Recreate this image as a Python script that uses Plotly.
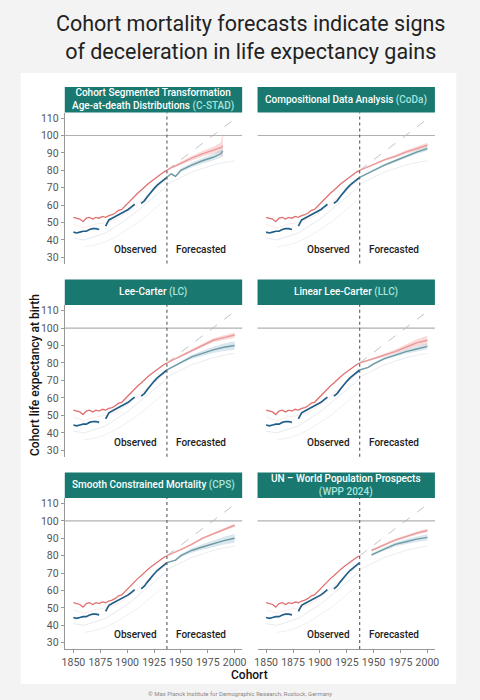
import plotly.graph_objects as go

# Observed cohort life expectancy (shared by all panels)
obs_years = list(range(1850, 1938, 3))
obs_female = [53, 52.5, 52, 50.5, 52.5, 53, 52, 53, 52.5, 53.5, 53, 54, 54.5, 55.5, 57,
              57.5, 59.5, 61, 63.5, 65.5, 67, 68.5, 70.5, 72, 73.5, 75, 76.5, 77.5, 79, 80]
obs_male = [44.5, 44, 44.5, 45, 45, 46, 46.5, 46.5, 46, None, 48, 51.5, 52.5, 53.5, 54.5,
            55.5, 56.5, 57.5, 59, 60.5, None, 61, 62.5, 65, 67.5, 69.5, 71.5, 73, 74.5, 76]

# faint background lines
faint_years = [1850, 1860, 1870, 1880, 1890, 1900, 1910, 1920, 1930, 1937]
faint_pink = [49, 47, 49, 50, 52, 56, 61, 66, 71, 75]
faint_blue = [41, 40, 42, 44, 48, 52, 57, 62, 67, 71]
faint_grey = [None, 36, 37, 39, 42, 46, 50, 55, 60, 64]
faint_fc_years = [1937, 1950, 1960, 1970, 1980, 1990, 2000]
faint_fc = [72, 76, 79, 81, 83, 84.5, 85.5]

# linear trend (dashed)
trend_years = [1937, 2000]
trend_vals = [80, 109.5]

# Forecasts
fc_years = [1937, 1945, 1950, 1960, 1970, 1980, 1990, 2000]

cstad_years = [1937, 1941, 1945, 1950, 1960, 1970, 1980, 1987, 1989]
cstad_f = [80, 81.5, 82.5, 84, 87, 89.5, 91.5, 93, 94]
cstad_m = [76, 78, 76.5, 80, 83, 85.5, 87.5, 89.5, 91]
cstad_fband = [0, 0.6, 0.8, 1, 1.3, 1.6, 2, 2.8, 7.5]
cstad_mband = [0, 0.5, 0.8, 1, 1.3, 1.6, 1.9, 2.2, 2.5]

coda_f = [80, 82, 83.5, 86, 88, 90.5, 92.5, 94.5]
coda_m = [76, 78.5, 80, 83, 85.5, 88, 90.5, 92.5]
coda_fband = [0, 0.4, 0.5, 0.6, 0.8, 1, 1.2, 1.4]
coda_mband = [0, 0.4, 0.5, 0.6, 0.8, 1, 1.1, 1.3]

lc_f = [80, 82.5, 84, 87, 90, 93, 94.5, 96]
lc_m = [76, 78.5, 80.5, 83.5, 85.5, 87.5, 89, 90]
lc_fband = [0, 0.4, 0.6, 0.8, 1, 1.2, 1.4, 1.5]
lc_mband = [0, 0.6, 0.8, 1.2, 1.5, 1.8, 2.1, 2.4]

llc_f = [80, 81.5, 82.5, 84.5, 86.5, 89, 91.5, 93]
llc_m = [76, 77.5, 79.5, 82.5, 84.5, 86.5, 88, 89.5]
llc_fband = [0, 0.4, 0.6, 0.9, 1.2, 1.6, 2.1, 2.6]
llc_mband = [0, 0.4, 0.6, 0.8, 1, 1.2, 1.4, 1.6]

cps_f = [80, 82, 83.5, 86.5, 90, 92.5, 95, 97.5]
cps_m = [76, 77.5, 80, 83, 85, 87, 88.7, 90]
cps_fband = [0, 0.3, 0.4, 0.5, 0.6, 0.7, 0.8, 0.9]
cps_mband = [0, 0.6, 0.9, 1.3, 1.6, 1.9, 2.2, 2.5]

wpp_years = [1948, 1960, 1970, 1980, 1990, 2000]
wpp_f = [83, 86.5, 89, 91, 93, 94.5]
wpp_m = [80.5, 84, 86.5, 88, 89.5, 90.5]
wpp_fband = [0.5, 0.6, 0.7, 0.8, 0.9, 1]
wpp_mband = [0.8, 1, 1.2, 1.4, 1.6, 1.8]

PAR = "<span style='color:#a8e4dd'>"
titles = [
    "Cohort Segmented Transformation<br>Age-at-death Distributions " + PAR + "(C-STAD)</span>",
    "Compositional Data Analysis " + PAR + "(CoDa)</span>",
    "Lee-Carter " + PAR + "(LC)</span>",
    "Linear Lee-Carter " + PAR + "(LLC)</span>",
    "Smooth Constrained Mortality " + PAR + "(CPS)</span>",
    "UN – World Population Prospects<br>" + PAR + "(WPP 2024)</span>",
]
panels = [
    (cstad_years, cstad_f, cstad_m, cstad_fband, cstad_mband),
    (fc_years, coda_f, coda_m, coda_fband, coda_mband),
    (fc_years, lc_f, lc_m, lc_fband, lc_mband),
    (fc_years, llc_f, llc_m, llc_fband, llc_mband),
    (fc_years, cps_f, cps_m, cps_fband, cps_mband),
    (wpp_years, wpp_f, wpp_m, wpp_fband, wpp_mband),
]

W, H = 480, 700
col_px = [(62.7, 242.7), (258.3, 438.3)]
row_px = [(111.7, 263), (304.4, 456.3), (497.6, 649)]
HEAD = 25.5

RED = "#e07070"
BLUE = "#1f5e89"
RED_FC = "#e99a9a"
BLUE_FC = "#6e9aa2"
TEAL = "#19786f"

fig = go.Figure()
shapes = []
annotations = []

# white card
shapes.append(dict(type="rect", xref="paper", yref="paper", x0=18 / W, x1=460 / W,
                   y0=1 - 684 / H, y1=1 - 72 / H, fillcolor="white", line_width=0, layer="below"))

for i, (yrs, f, m, fb, mb) in enumerate(panels):
    r, c = divmod(i, 2)
    n = i + 1
    xa = "x" if n == 1 else f"x{n}"
    ya = "y" if n == 1 else f"y{n}"
    x0, x1 = col_px[c]
    top, bot = row_px[r]

    # faint lines
    for vals, col in [(faint_pink, "rgba(235,170,170,0.25)"), (faint_blue, "rgba(150,175,200,0.25)"),
                      (faint_grey, "rgba(180,180,190,0.2)")]:
        fig.add_trace(go.Scatter(x=faint_years, y=vals, mode="lines", line=dict(color=col, width=1),
                                 xaxis=xa, yaxis=ya, hoverinfo="skip", showlegend=False))
    fig.add_trace(go.Scatter(x=faint_fc_years, y=faint_fc, mode="lines",
                             line=dict(color="rgba(170,180,195,0.25)", width=1),
                             xaxis=xa, yaxis=ya, hoverinfo="skip", showlegend=False))

    # trend
    fig.add_trace(go.Scatter(x=trend_years, y=trend_vals, mode="lines",
                             line=dict(color="#c4c4c4", width=1, dash="dash"),
                             xaxis=xa, yaxis=ya, hoverinfo="skip", showlegend=False))

    # bands
    for vals, band, col in [(f, fb, "rgba(240,150,150,0.35)"), (m, mb, "rgba(150,185,205,0.35)")]:
        hi = [v + b for v, b in zip(vals, band)]
        lo = [v - b for v, b in zip(vals, band)]
        fig.add_trace(go.Scatter(x=yrs + yrs[::-1], y=hi + lo[::-1], fill="toself", fillcolor=col,
                                 line=dict(width=0), mode="lines", xaxis=xa, yaxis=ya,
                                 hoverinfo="skip", showlegend=False))

    # forecast lines
    fig.add_trace(go.Scatter(x=yrs, y=f, mode="lines", line=dict(color=RED_FC, width=1.4),
                             xaxis=xa, yaxis=ya, showlegend=False))
    fig.add_trace(go.Scatter(x=yrs, y=m, mode="lines", line=dict(color=BLUE_FC, width=1.4),
                             xaxis=xa, yaxis=ya, showlegend=False))

    # observed
    fig.add_trace(go.Scatter(x=obs_years, y=obs_female, mode="lines", line=dict(color=RED, width=1.3),
                             xaxis=xa, yaxis=ya, showlegend=False))
    fig.add_trace(go.Scatter(x=obs_years, y=obs_male, mode="lines", line=dict(color=BLUE, width=1.7),
                             xaxis=xa, yaxis=ya, showlegend=False))

    ax = dict(domain=[x0 / W, x1 / W], range=[1842, 2007], anchor=ya, showgrid=False, zeroline=False,
              tickvals=[1850, 1875, 1900, 1925, 1950, 1975, 2000],
              tickfont=dict(family="Roboto", size=10.5, color="#555"))
    if r == 2:
        ax.update(showline=True, linecolor="#999", linewidth=1, ticks="outside", ticklen=3,
                  tickcolor="#999", showticklabels=True)
    else:
        ax.update(showticklabels=False, showline=False)
    ay = dict(domain=[1 - bot / H, 1 - top / H], range=[26.4, 113.2], anchor=xa, showgrid=False,
              zeroline=False, tickvals=list(range(30, 111, 10)),
              tickfont=dict(family="Roboto", size=10.5, color="#555"))
    if c == 0:
        ay.update(showline=True, linecolor="#999", linewidth=1, ticks="outside", ticklen=3,
                  tickcolor="#999", showticklabels=True)
    else:
        ay.update(showticklabels=False, showline=False)
    fig.update_layout(**{("xaxis" if n == 1 else f"xaxis{n}"): ax,
                         ("yaxis" if n == 1 else f"yaxis{n}"): ay})

    # reference lines
    shapes.append(dict(type="line", xref=f"{xa} domain", yref=ya, x0=0, x1=1, y0=100, y1=100,
                       line=dict(color="#b0b0b0", width=1.2)))
    shapes.append(dict(type="line", xref=xa, yref=f"{ya} domain", x0=1937, x1=1937, y0=0, y1=1,
                       line=dict(color="#666", width=1.2, dash="dot")))

    # header
    shapes.append(dict(type="rect", xref="paper", yref="paper", x0=x0 / W, x1=x1 / W,
                       y0=1 - top / H, y1=1 - (top - HEAD) / H, fillcolor=TEAL, line_width=0))
    annotations.append(dict(xref="paper", yref="paper", x=(x0 + x1) / 2 / W, y=1 - (top - HEAD / 2) / H,
                            text=titles[i], showarrow=False, xanchor="center", yanchor="middle",
                            font=dict(family="Roboto", size=10, color="white", weight=500)))

    for lbl, xv in [("Observed", 1908), ("Forecasted", 1969)]:
        annotations.append(dict(xref=xa, yref=ya, x=xv, y=34.5, text=lbl, showarrow=False,
                                font=dict(family="Roboto", size=10, color="#222", weight=500)))

# title, axis titles, footer
annotations.append(dict(xref="paper", yref="paper", x=251 / W, y=1 - 37 / H,
                        text="Cohort mortality forecasts indicate signs<br>of deceleration in life expectancy gains",
                        showarrow=False, xanchor="center", yanchor="middle",
                        font=dict(family="Roboto", size=21.5, color="#222")))
annotations.append(dict(xref="paper", yref="paper", x=33 / W, y=1 - 375 / H, text="Cohort life expectancy at birth",
                        textangle=-90, showarrow=False, xanchor="center", yanchor="middle",
                        font=dict(family="Roboto", size=12, color="#111", weight=500)))
annotations.append(dict(xref="paper", yref="paper", x=250 / W, y=1 - 675 / H, text="Cohort",
                        showarrow=False, xanchor="center", yanchor="middle",
                        font=dict(family="Roboto", size=12, color="#111", weight=500)))
annotations.append(dict(xref="paper", yref="paper", x=240 / W, y=1 - 693 / H,
                        text="© Max Planck Institute for Demographic Research, Rostock, Germany",
                        showarrow=False, xanchor="center", yanchor="middle",
                        font=dict(family="Roboto", size=6, color="#888")))

fig.update_layout(width=W, height=H, margin=dict(l=0, r=0, t=0, b=0),
                  paper_bgcolor="#f3f3f3", plot_bgcolor="rgba(0,0,0,0)",
                  shapes=shapes, annotations=annotations, showlegend=False,
                  font=dict(family="Roboto"))

fig.write_html("out.html", config={"displayModeBar": False},
               post_script="document.body.style.margin='0';")
